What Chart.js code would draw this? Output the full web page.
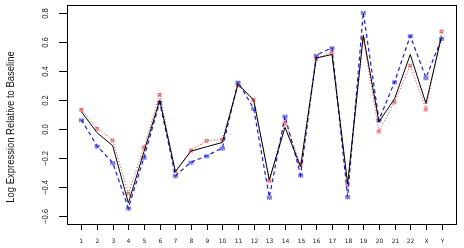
<!DOCTYPE html>
<html>
<head>
<meta charset="utf-8">
<script src="https://cdn.jsdelivr.net/npm/chart.js@4/dist/chart.umd.min.js"></script>
<style>
  html, body { margin: 0; padding: 0; background: #fff; }
  #wrap { width: 464px; height: 248px; }
</style>
</head>
<body>
<div id="wrap"><canvas id="chart" width="464" height="248"></canvas></div>
<script>
// chromosome categories along the x axis
const chromosomes = ['1','2','3','4','5','6','7','8','9','10','11','12','13','14','15','16','17','18','19','20','21','22','X','Y'];

// values
const solidSeries = [0.12, -0.025, -0.115, -0.51, -0.155, 0.20, -0.294, -0.152, -0.122, -0.092, 0.31, 0.20, -0.35, 0.012, -0.26, 0.49, 0.515, -0.378, 0.648, 0.05, 0.21, 0.515, 0.177, 0.64];
const redSeries   = [0.136, 0.005, -0.076, -0.442, -0.124, 0.239, -0.29, -0.145, -0.08, -0.071, 0.303, 0.205, -0.354, 0.045, -0.241, 0.488, 0.533, -0.386, 0.625, -0.014, 0.188, 0.441, 0.138, 0.676];
const blueSeries  = [0.064, -0.117, -0.232, -0.545, -0.195, 0.186, -0.322, -0.228, -0.184, -0.131, 0.324, 0.143, -0.47, 0.09, -0.317, 0.51, 0.561, -0.467, 0.805, 0.062, 0.326, 0.644, 0.354, 0.625];

const yTicks = [-0.6, -0.4, -0.2, 0.0, 0.2, 0.4, 0.6, 0.8];

function toPoints(values) {
    return values.map((v, i) => ({ x: i + 1, y: v }));
}

function letterMarker(ch, color) {
    const c = document.createElement('canvas');
    c.width = 7; c.height = 7;
    const g = c.getContext('2d');
    g.fillStyle = color;
    g.font = 'bold 6px "Liberation Sans", Arial, sans-serif';
    g.textAlign = 'center';
    g.textBaseline = 'middle';
    g.fillText(ch, 3.5, 4);
    return c;
}

const FONT = '"Liberation Sans", Arial, sans-serif';

const rAxes = {
    id: 'rAxes',
    afterDraw(chart) {
        const ctx = chart.ctx;
        const area = chart.chartArea;
        const xs = chart.scales.x;
        const ys = chart.scales.y;
        ctx.save();
        ctx.strokeStyle = '#000';
        ctx.lineWidth = 1;
        ctx.strokeRect(Math.round(area.left) + 0.5, Math.round(area.top) + 0.5,
            Math.round(area.right - area.left), Math.round(area.bottom - area.top));

        // x ticks and labels
        ctx.fillStyle = '#222';
        ctx.font = '6px "DejaVu Sans", sans-serif';
        ctx.textAlign = 'center';
        ctx.textBaseline = 'middle';
        chromosomes.forEach((lab, i) => {
            const px = Math.round(xs.getPixelForValue(i + 1)) + 0.5;
            ctx.beginPath();
            ctx.moveTo(px, area.bottom);
            ctx.lineTo(px, area.bottom + 6);
            ctx.stroke();
            ctx.fillText(lab, px, 241.5);
        });

        // y ticks and rotated labels (narrowed like the R output)
        ctx.font = '9px ' + FONT;
        yTicks.forEach(v => {
            const py = Math.round(ys.getPixelForValue(v)) + 0.5;
            ctx.beginPath();
            ctx.moveTo(area.left - 8, py);
            ctx.lineTo(area.left, py);
            ctx.stroke();
            ctx.save();
            ctx.translate(46, py);
            ctx.rotate(-Math.PI / 2);
            ctx.scale(0.85, 1);
            ctx.fillText(v < 0 ? '\u2212' + Math.abs(v).toFixed(1) : v.toFixed(1), 0, 0);
            ctx.restore();
        });

        // axis title
        ctx.font = '11px ' + FONT;
        ctx.save();
        ctx.translate(11, 127);
        ctx.rotate(-Math.PI / 2);
        ctx.scale(0.86, 1);
        ctx.fillStyle = '#111';
        ctx.fillText('Log Expression Relative to Baseline', 0, 0);
        ctx.restore();
        ctx.restore();
    }
};

new Chart(document.getElementById('chart').getContext('2d'), {
    type: 'line',
    data: {
        datasets: [
            {
                label: 'solid',
                data: toPoints(solidSeries),
                borderColor: '#000',
                borderWidth: 1,
                pointRadius: 0,
                order: 0
            },
            {
                label: 'red',
                data: toPoints(redSeries),
                borderColor: '#e03030',
                borderWidth: 1,
                borderDash: [1, 2],
                pointStyle: letterMarker('R', '#e03030'),
                order: 2
            },
            {
                label: 'blue',
                data: toPoints(blueSeries),
                borderColor: '#1a1ad0',
                borderWidth: 1.2,
                borderDash: [4, 3],
                pointStyle: letterMarker('M', '#1a1ad0'),
                order: 1
            }
        ]
    },
    options: {
        responsive: false,
        animation: false,
        layout: { padding: { left: 67, right: 8, top: 5, bottom: 24 } },
        scales: {
            x: { type: 'linear', min: 0.08, max: 24.92, display: false },
            y: { type: 'linear', min: -0.655, max: 0.855, display: false }
        },
        plugins: {
            legend: { display: false },
            tooltip: { enabled: false }
        }
    },
    plugins: [rAxes]
});
</script>
</body>
</html>
